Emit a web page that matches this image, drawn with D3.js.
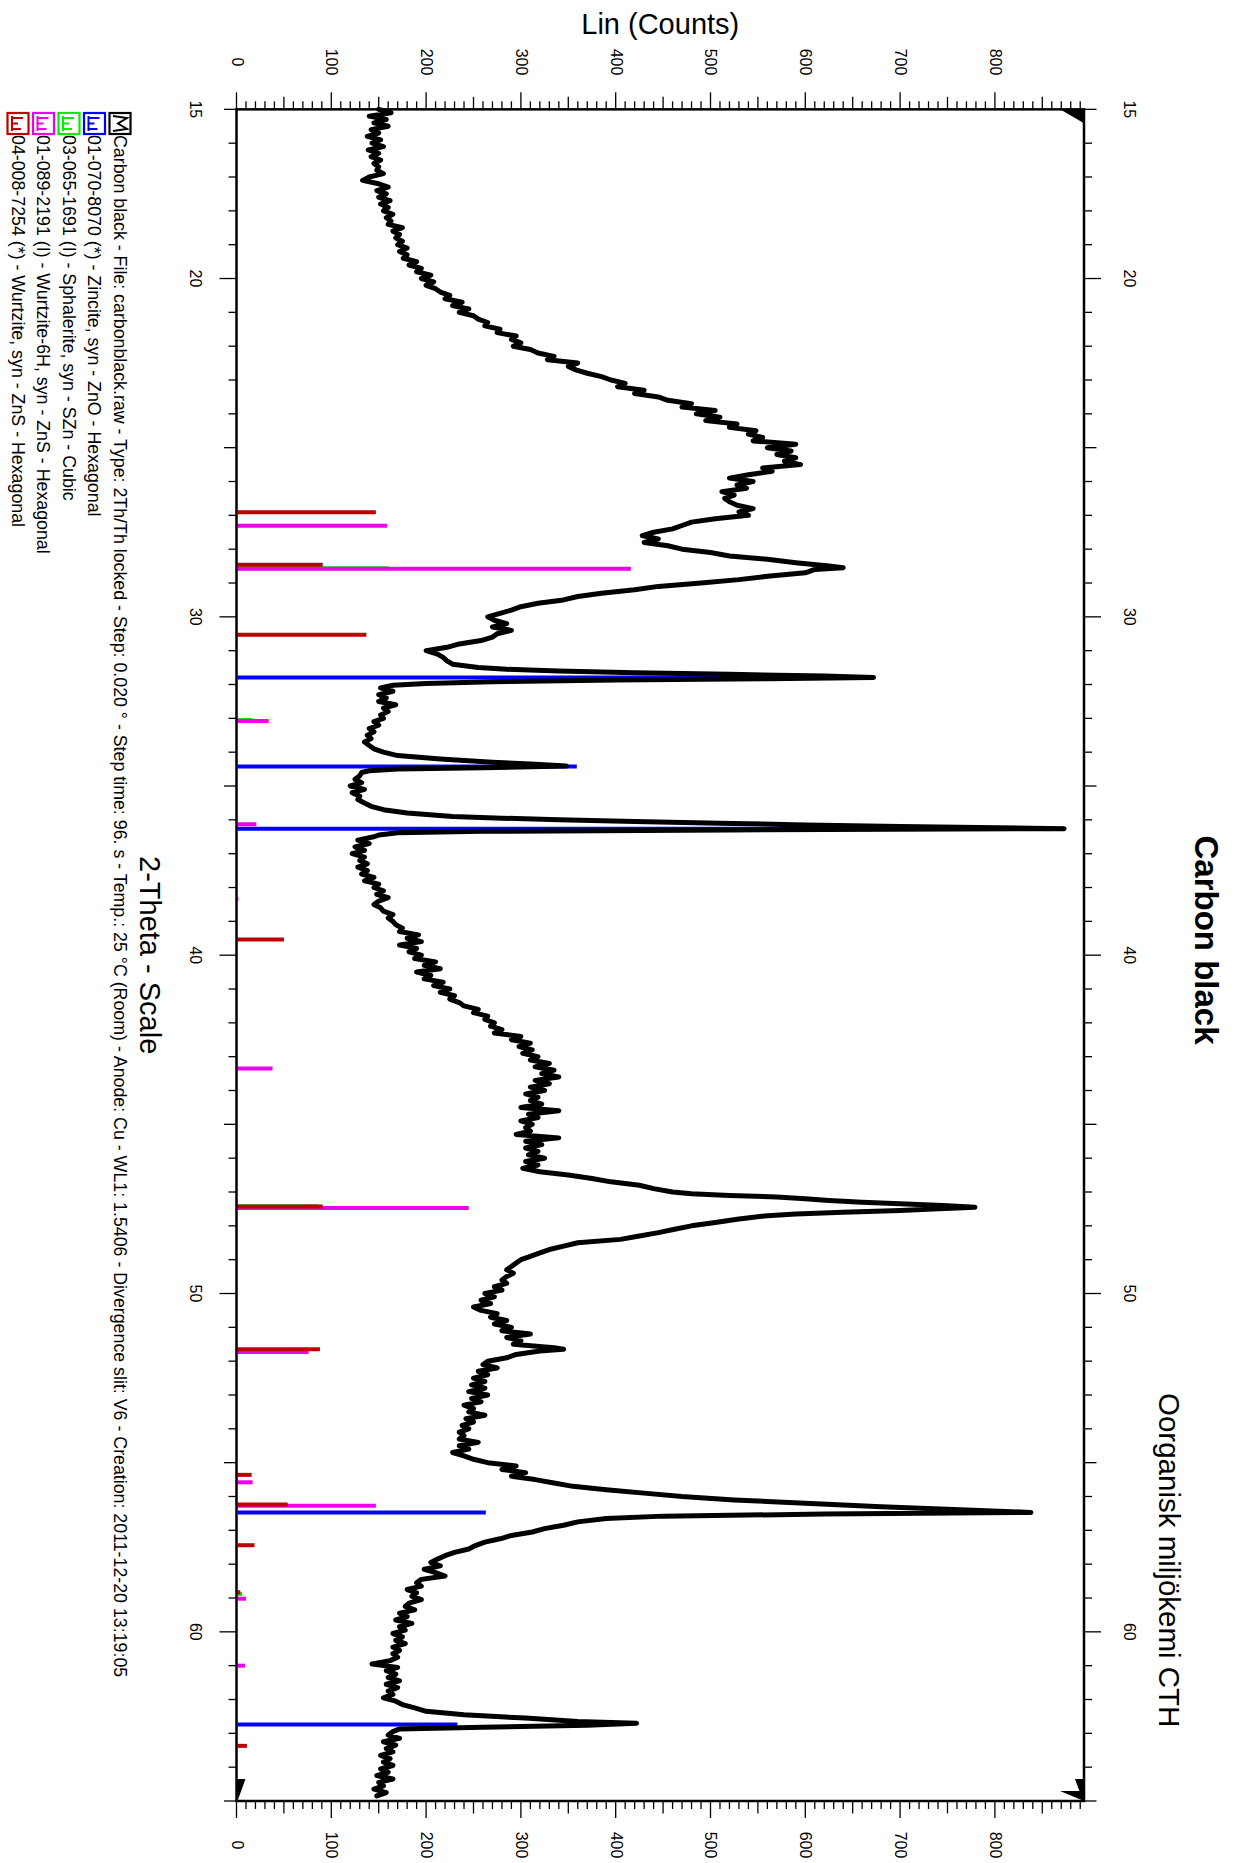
<!DOCTYPE html>
<html>
<head>
<meta charset="utf-8" />
<title>Carbon black - XRD</title>
<script src="https://d3js.org/d3.v7.min.js"></script>
<style>
  body { margin: 0; background: #fff; }
  svg { display: block; font-family: "Liberation Sans", Arial, sans-serif; }
</style>
</head>
<body>
<svg width="1235" height="1863"></svg>
<script>
// Carbon black scan: [2-theta, Lin counts]
const scan = [
  [15.0,150],[15.1,163],[15.2,140],[15.3,158],[15.4,145],[15.5,160],[15.6,142],[15.7,150],[15.8,138],[15.9,152],
  [16.0,143],[16.1,155],[16.2,139],[16.3,150],[16.4,142],[16.5,152],[16.6,145],[16.7,150],[16.8,148],[16.9,155],
  [17.0,140],[17.1,133],[17.2,150],[17.3,160],[17.4,148],[17.5,158],[17.6,150],[17.7,162],[17.8,152],[17.9,160],
  [18.0,155],[18.1,165],[18.2,158],[18.3,163],[18.4,160],[18.5,175],[18.6,165],[18.7,172],[18.8,168],[18.9,175],
  [19.0,170],[19.1,180],[19.2,172],[19.3,180],[19.4,176],[19.5,190],[19.6,182],[19.7,195],[19.8,190],[19.9,205],
  [20.0,195],[20.1,208],[20.2,200],[20.3,210],[20.4,215],[20.5,225],[20.6,220],[20.7,238],[20.8,228],[20.9,245],
  [21.0,235],[21.1,250],[21.2,255],[21.3,265],[21.4,262],[21.5,278],[21.6,275],[21.7,295],[21.8,290],[21.9,300],
  [22.0,292],[22.1,310],[22.2,318],[22.3,335],[22.4,328],[22.5,360],[22.6,350],[22.7,358],[22.8,370],[22.9,385],
  [23.0,395],[23.1,410],[23.2,402],[23.3,430],[23.4,420],[23.5,445],[23.6,455],[23.7,480],[23.8,470],[23.9,505],
  [24.0,485],[24.1,510],[24.2,495],[24.3,528],[24.4,520],[24.5,548],[24.6,540],[24.7,555],[24.8,545],[24.9,590],
  [25.0,560],[25.1,585],[25.2,570],[25.3,590],[25.4,578],[25.5,595],[25.6,555],[25.7,565],[25.8,540],[25.9,520],
  [26.0,545],[26.1,528],[26.2,538],[26.3,512],[26.4,525],[26.5,515],[26.6,520],[26.7,528],[26.8,545],[26.9,530],
  [27.0,540],[27.1,505],[27.2,480],[27.3,470],[27.4,460],[27.5,440],[27.6,428],[27.7,445],[27.8,430],[27.9,455],
  [28.0,470],[28.1,500],[28.2,520],[28.3,560],[28.4,590],[28.5,625],[28.55,640],[28.6,610],[28.7,600],[28.8,560],
  [28.9,530],[29.0,490],[29.1,445],[29.2,420],[29.3,385],[29.4,360],[29.5,345],[29.6,318],[29.7,300],[29.8,290],
  [29.9,278],[30.0,265],[30.1,272],[30.2,285],[30.3,270],[30.4,290],[30.5,275],[30.6,270],[30.7,258],[30.8,235],
  [30.9,222],[31.0,200],[31.1,212],[31.2,218],[31.3,222],[31.4,228],[31.5,255],[31.55,285],[31.6,340],[31.65,420],
  [31.7,520],[31.75,620],[31.79,672],[31.83,560],[31.87,400],[31.92,270],[31.97,200],[32.02,165],[32.1,152],[32.2,165],
  [32.3,150],[32.4,158],[32.5,150],[32.6,168],[32.7,155],[32.8,160],[32.9,152],[33.0,155],[33.1,145],[33.2,150],
  [33.3,140],[33.4,145],[33.5,138],[33.6,142],[33.7,135],[33.8,140],[33.9,145],[34.0,155],[34.1,170],[34.2,215],
  [34.3,270],[34.35,310],[34.41,348],[34.46,260],[34.5,170],[34.55,140],[34.6,132],[34.7,130],[34.8,125],[34.9,132],
  [35.0,120],[35.1,135],[35.2,122],[35.3,130],[35.4,128],[35.5,135],[35.6,142],[35.7,155],[35.8,180],[35.9,228],
  [35.95,280],[36.0,340],[36.05,420],[36.1,510],[36.15,600],[36.2,700],[36.26,873],[36.3,520],[36.34,260],[36.38,170],
  [36.45,150],[36.5,145],[36.6,128],[36.7,140],[36.8,125],[36.9,135],[37.0,122],[37.1,135],[37.2,130],[37.3,138],
  [37.4,128],[37.5,138],[37.6,132],[37.7,145],[37.8,135],[37.9,150],[38.0,145],[38.1,155],[38.2,148],[38.3,160],
  [38.4,150],[38.5,145],[38.6,152],[38.7,155],[38.8,165],[38.9,160],[39.0,165],[39.1,168],[39.2,175],[39.3,172],
  [39.4,192],[39.5,180],[39.6,195],[39.7,172],[39.8,190],[39.9,182],[40.0,195],[40.1,188],[40.2,210],[40.3,198],
  [40.4,215],[40.5,190],[40.6,205],[40.7,198],[40.8,218],[40.9,208],[41.0,225],[41.1,215],[41.2,230],[41.3,225],
  [41.4,235],[41.5,240],[41.6,255],[41.7,250],[41.8,265],[41.9,262],[42.0,272],[42.1,268],[42.2,280],[42.3,272],
  [42.4,300],[42.5,290],[42.6,310],[42.7,298],[42.8,312],[42.9,302],[43.0,318],[43.1,310],[43.2,330],[43.3,315],
  [43.4,335],[43.5,322],[43.6,340],[43.7,315],[43.8,330],[43.9,310],[44.0,325],[44.1,305],[44.2,318],[44.3,310],
  [44.4,322],[44.5,300],[44.6,340],[44.7,308],[44.8,318],[44.9,300],[45.0,312],[45.1,305],[45.2,310],[45.3,295],
  [45.4,340],[45.5,305],[45.6,322],[45.7,305],[45.8,318],[45.9,308],[46.0,325],[46.1,305],[46.2,318],[46.3,302],
  [46.4,320],[46.5,350],[46.6,375],[46.7,395],[46.8,425],[46.9,440],[47.0,460],[47.05,480],[47.1,520],[47.15,570],
  [47.2,600],[47.25,625],[47.3,660],[47.35,700],[47.4,745],[47.45,779],[47.5,735],[47.55,700],[47.6,640],[47.65,590],
  [47.7,560],[47.8,530],[47.9,505],[48.0,480],[48.1,462],[48.2,445],[48.3,425],[48.4,405],[48.5,360],[48.6,345],
  [48.7,330],[48.8,320],[48.9,310],[49.0,300],[49.1,295],[49.2,290],[49.3,285],[49.4,292],[49.5,285],[49.6,280],
  [49.7,285],[49.8,272],[49.9,280],[50.0,262],[50.1,272],[50.2,258],[50.3,268],[50.4,250],[50.5,258],[50.6,275],
  [50.7,268],[50.8,285],[50.9,272],[51.0,290],[51.1,280],[51.2,310],[51.3,285],[51.4,300],[51.5,292],[51.6,335],
  [51.65,345],[51.7,320],[51.8,295],[51.9,285],[52.0,265],[52.1,260],[52.2,275],[52.3,255],[52.4,265],[52.5,250],
  [52.6,262],[52.7,248],[52.8,262],[52.9,245],[53.0,265],[53.1,248],[53.2,258],[53.3,240],[53.4,250],[53.5,245],
  [53.6,262],[53.7,242],[53.8,250],[53.9,238],[54.0,245],[54.1,235],[54.2,240],[54.3,235],[54.4,255],[54.5,235],
  [54.6,245],[54.7,228],[54.8,240],[54.9,250],[55.0,265],[55.1,295],[55.2,280],[55.3,305],[55.4,290],[55.5,315],
  [55.6,335],[55.7,355],[55.8,390],[55.9,430],[56.0,470],[56.1,525],[56.2,600],[56.3,680],[56.4,770],[56.47,838],
  [56.52,620],[56.58,450],[56.65,390],[56.75,360],[56.85,345],[56.95,325],[57.05,312],[57.15,290],[57.25,278],[57.35,262],
  [57.45,252],[57.55,245],[57.65,230],[57.75,220],[57.85,212],[57.95,205],[58.05,215],[58.15,198],[58.25,210],[58.35,220],
  [58.45,195],[58.55,190],[58.65,195],[58.75,180],[58.85,190],[58.95,185],[59.05,195],[59.15,182],[59.25,178],[59.35,188],
  [59.45,172],[59.55,180],[59.65,168],[59.75,185],[59.85,172],[59.95,178],[60.05,165],[60.15,175],[60.25,168],[60.35,178],
  [60.45,165],[60.55,172],[60.65,165],[60.75,170],[60.85,162],[60.95,143],[61.05,170],[61.15,158],[61.25,168],[61.35,160],
  [61.45,172],[61.55,158],[61.65,170],[61.75,160],[61.85,165],[61.95,155],[62.05,168],[62.15,175],[62.25,188],[62.35,200],
  [62.45,240],[62.55,305],[62.65,360],[62.7,422],[62.76,370],[62.82,260],[62.87,172],[62.95,165],[63.05,160],[63.15,172],
  [63.25,155],[63.35,168],[63.45,158],[63.55,165],[63.65,152],[63.75,162],[63.85,155],[63.95,165],[64.05,152],[64.15,160],
  [64.25,148],[64.35,165],[64.45,150],[64.55,155],[64.65,145],[64.75,158],[64.85,148]
];

// reference patterns (stick positions and heights)
const zincite    = [[31.79,671],[34.42,359],[36.26,873],[56.47,263],[62.74,233]];
const sphalerite = [[28.56,161],[33.05,17],[47.42,86],[58.88,6]];
const wurtzite6H = [[27.31,159],[28.58,416],[33.08,34],[36.13,21],[38.34,2],[43.35,38],[47.47,245],[51.73,76],[55.58,17],[56.27,147],[59.02,10],[61.0,9]];
const wurtzite   = [[26.91,147],[28.46,91],[30.53,137],[39.54,50],[47.43,91],[51.65,88],[55.36,16],[56.24,54],[57.44,19],[58.83,4],[63.37,11]];

const legendLabels = [
  "Carbon black - File: carbonblack.raw - Type: 2Th/Th locked - Step: 0.020 \u00b0 - Step time: 96. s - Temp.: 25 \u00b0C (Room) - Anode: Cu - WL1: 1.5406 - Divergence slit: V6 - Creation: 2011-12-20 13:19:05",
  "01-070-8070 (*) - Zincite, syn - ZnO - Hexagonal",
  "03-065-1691 (I) - Sphalerite, syn - SZn - Cubic",
  "01-089-2191 (I) - Wurtzite-6H, syn - ZnS - Hexagonal",
  "04-008-7254 (*) - Wurtzite, syn - ZnS - Hexagonal"
];
const legendColors = ["#000000", "#0000ff", "#00ee00", "#ee00ee", "#c00000"];
const thetaLabels = [15, 20, 30, 40, 50, 60];
const countLabels = [0, 100, 200, 300, 400, 500, 600, 700, 800];

const svg = d3.select("svg");

// the chart is drawn lying on its side: 2-theta runs down, counts run right
const y = d3.scaleLinear().domain([15, 65]).range([109.35, 1801]);
const x = d3.scaleLinear().domain([0, 894]).range([236.5, 1084]);

// reference sticks, red on top
const phases = [
  { data: zincite, color: legendColors[1] },
  { data: sphalerite, color: legendColors[2] },
  { data: wurtzite6H, color: legendColors[3] },
  { data: wurtzite, color: legendColors[4] }
];
phases.forEach((p) => {
  svg.append("g")
    .selectAll("line")
    .data(p.data)
    .join("line")
    .attr("x1", x(0) + 1)
    .attr("x2", (d) => x(d[1]))
    .attr("y1", (d) => y(d[0]))
    .attr("y2", (d) => y(d[0]))
    .attr("stroke", p.color)
    .attr("stroke-width", 4);
});

// scan curve
const line = d3.line()
  .x((d) => x(d[1]))
  .y((d) => y(d[0]));
svg.append("path")
  .datum(scan)
  .attr("d", line)
  .attr("fill", "none")
  .attr("stroke", "#000")
  .attr("stroke-width", 5)
  .attr("stroke-linejoin", "round")
  .attr("stroke-linecap", "round");

// frame
svg.append("rect")
  .attr("x", x(0)).attr("y", y(15))
  .attr("width", x(894) - x(0)).attr("height", y(65) - y(15))
  .attr("fill", "none").attr("stroke", "#000").attr("stroke-width", 2.5);

// tick marks
const countTicks = d3.range(0, 891, 10);
const thetaTicks = d3.range(15, 66, 1);
const cLen = (v) => (v % 100 === 0 ? 17 : v % 50 === 0 ? 12.5 : 8);
const tLen = (v) => (v % 10 === 0 ? 17 : v % 5 === 0 ? 12.5 : 8);

const ticks = svg.append("g").attr("stroke", "#000").attr("stroke-width", 1.3);
ticks.selectAll(".ct").data(countTicks).join("line").attr("class", "ct")
  .attr("x1", (d) => x(d)).attr("x2", (d) => x(d))
  .attr("y1", y(15)).attr("y2", (d) => y(15) - cLen(d));
ticks.selectAll(".cb").data(countTicks).join("line").attr("class", "cb")
  .attr("x1", (d) => x(d)).attr("x2", (d) => x(d))
  .attr("y1", y(65)).attr("y2", (d) => y(65) + cLen(d));
ticks.selectAll(".tl").data(thetaTicks).join("line").attr("class", "tl")
  .attr("y1", (d) => y(d)).attr("y2", (d) => y(d))
  .attr("x1", x(0)).attr("x2", (d) => x(0) - tLen(d));
ticks.selectAll(".tr").data(thetaTicks).join("line").attr("class", "tr")
  .attr("y1", (d) => y(d)).attr("y2", (d) => y(d))
  .attr("x1", x(894)).attr("x2", (d) => x(894) + tLen(d));

// rotated text helper
function rtext(g, px, py, str, size, anchor, weight) {
  return g.append("text")
    .attr("transform", `translate(${px},${py}) rotate(90)`)
    .attr("text-anchor", anchor || "start")
    .attr("font-size", size)
    .attr("font-weight", weight || "normal")
    .text(str);
}

const labels = svg.append("g").attr("fill", "#000");
countLabels.forEach((v) => {
  rtext(labels, x(v) - 5, 62, v, 16, "middle");
  rtext(labels, x(v) - 5, 1845, v, 16, "middle");
});
thetaLabels.forEach((v) => {
  rtext(labels, 190, y(v), v, 16, "middle");
  rtext(labels, 1124, y(v), v, 16, "middle");
});

// axis titles
svg.append("text")
  .attr("x", (x(0) + x(894)) / 2).attr("y", 34)
  .attr("text-anchor", "middle").attr("font-size", 29)
  .text("Lin (Counts)");
rtext(svg, 140, (y(15) + y(65)) / 2, "2-Theta - Scale", 29, "middle");

// titles
rtext(svg, 1195, 940, "Carbon black", 33, "middle", "bold");
rtext(svg, 1159, 1393, "Oorganisk milj\u00f6kemi CTH", 29.5, "start");

// tiny scan markers in the corners
const markers = svg.append("g").attr("fill", "#000");
markers.append("polygon").attr("points", `${x(894)},${y(15)} ${x(894) - 24},${y(15)} ${x(894)},${y(15) + 14}`);
markers.append("polygon").attr("points", `${x(0)},${y(65) - 22} ${x(0) + 9},${y(65) - 22} ${x(0) + 1},${y(65)}`);
markers.append("polygon").attr("points", `${x(894)},${y(65) - 22} ${x(894) - 9},${y(65) - 22} ${x(894) - 1},${y(65)}`);
markers.append("polygon").attr("points", `${x(894)},${y(65)} ${x(894) - 24},${y(65) - 10} ${x(894)},${y(65) - 10}`);

// legend, one column per entry, read top to bottom
const legend = svg.append("g");
legendLabels.forEach((txt, i) => {
  const cx = 120 - i * 25.5;
  const c = legendColors[i];
  const g = legend.append("g");
  g.append("rect")
    .attr("x", cx - 10.5).attr("y", 113).attr("width", 21).attr("height", 21)
    .attr("fill", "#fff").attr("stroke", c).attr("stroke-width", 2.2);
  if (i === 0) {
    g.append("polyline")
      .attr("points", `${cx - 7},${116} ${cx + 7},${118} ${cx - 2},${123.5} ${cx + 7},${129} ${cx - 7},${131}`)
      .attr("fill", "none").attr("stroke", c).attr("stroke-width", 2);
  } else {
    g.append("line").attr("x1", cx - 6).attr("x2", cx - 6).attr("y1", 116).attr("y2", 131)
      .attr("stroke", c).attr("stroke-width", 2);
    [[118, 11], [123.5, 6], [129, 9]].forEach(([yy, l]) => {
      g.append("line").attr("x1", cx - 6).attr("x2", cx - 6 + l).attr("y1", yy).attr("y2", yy)
        .attr("stroke", c).attr("stroke-width", 2);
    });
  }
  rtext(g, cx - 6.5, 135, txt, 17.8, "start");
});
</script>
</body>
</html>
